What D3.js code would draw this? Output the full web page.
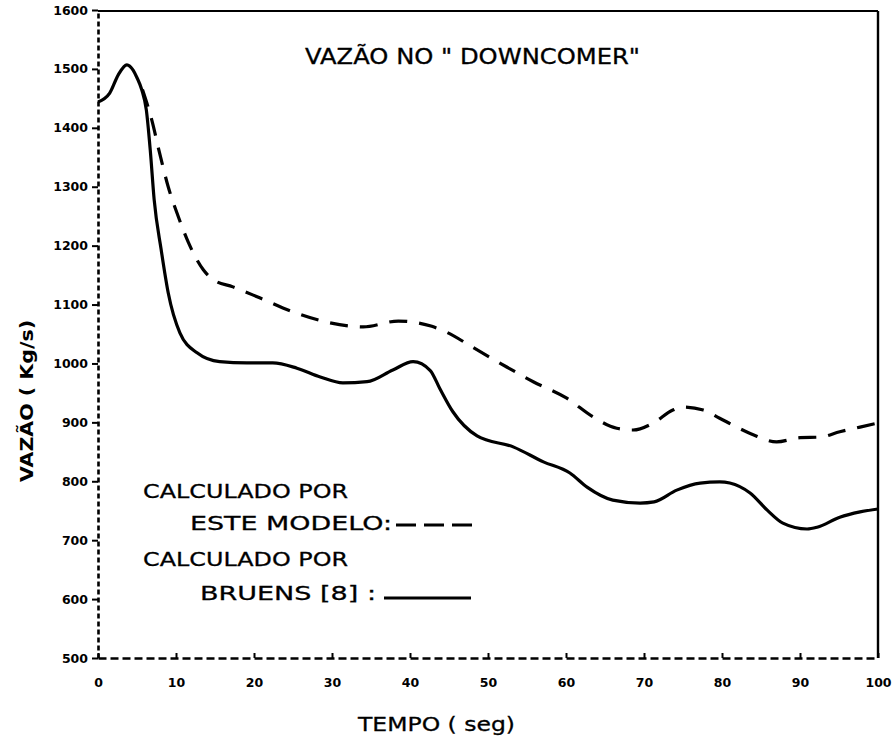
<!DOCTYPE html>
<html>
<head>
<meta charset="utf-8">
<script src="https://cdn.jsdelivr.net/npm/d3@7"></script>
<style>
  body { margin: 0; background: #fff; }
  svg { display: block; }
</style>
</head>
<body>
<div id="GraphHolder"></div>
<script>
// data
var tempoBruens = [0, 1.5, 2.6, 3.7, 4.5, 5.0, 5.6, 6.2, 6.7, 7.2, 8.1, 9.0, 10.5, 12.7, 15.6, 19.1, 22.4, 25.5, 28.5, 31.4, 34.5, 37.8, 40.4, 42.6, 43.8, 45.5, 48.6, 53.3, 57.1, 60.5, 62.7, 66.0, 69.5, 71.3, 74.2, 77.2, 79.7, 81.0, 83.6, 85.8, 87.8, 90.9, 92.2, 95.1, 97.7, 100];
var vazaoBruens = [1444, 1459, 1490, 1507, 1498, 1485, 1465, 1430, 1362, 1278, 1193, 1120, 1052, 1018, 1003, 1001, 1001, 992, 977, 967, 969, 989, 1003, 988, 958, 918, 877, 858, 833, 814, 790, 768, 763, 765, 785, 797, 799, 797, 780, 751, 729, 719, 722, 739, 748, 753];

var tempoModelo = [5.7, 6.9, 7.9, 9.0, 10.3, 11.6, 13.5, 14.8, 17.3, 20.8, 25.1, 29.4, 34.0, 38.5, 42.8, 44.7, 48.1, 52.4, 55.8, 60.1, 63.5, 66.5, 68.6, 71.2, 73.7, 74.9, 77.6, 79.7, 81.9, 84.0, 87.0, 90.0, 92.6, 95.1, 97.7, 100];
var vazaoModelo = [1465, 1413, 1357, 1300, 1249, 1205, 1159, 1142, 1130, 1111, 1087, 1070, 1062, 1072, 1063, 1053, 1027, 994, 969, 941, 909, 890, 887, 899, 921, 926, 921, 907, 892, 879, 867, 874, 875, 884, 892, 899];

var xTicks = [0, 10, 20, 30, 40, 50, 60, 70, 80, 90, 100];
var yTicks = [500, 600, 700, 800, 900, 1000, 1100, 1200, 1300, 1400, 1500, 1600];

var legendLines = ["CALCULADO POR", "ESTE MODELO:", "CALCULADO POR", "BRUENS [8] :"];

var W = 893, H = 743;

var svg = d3.select("#GraphHolder").append("svg")
    .attr("width", W)
    .attr("height", H)
    .style("background-color", "white");

// scales
var x = d3.scaleLinear().domain([0, 100]).range([98, 878]);
var y = d3.scaleLinear().domain([500, 1600]).range([658, 10]);

// left axis (dashed)
var yAxis = d3.axisLeft(y).tickValues(yTicks).tickFormat(d3.format("d"))
    .tickSize(6).tickSizeOuter(0).tickPadding(4);
var gy = svg.append("g")
    .attr("class", "yaxis")
    .attr("transform", "translate(" + x(0) + ",0)")
    .call(yAxis);
gy.select(".domain")
    .attr("stroke", "#000")
    .attr("stroke-width", 2.6)
    .attr("stroke-dasharray", "5,3");
gy.selectAll(".tick line").attr("stroke", "#000").attr("stroke-width", 2);
gy.selectAll(".tick text")
    .style("font-family", "DejaVu Sans")
    .style("font-weight", "bold")
    .style("font-size", "12.5px")
    .attr("fill", "#000");

// bottom axis (dashed)
var xAxis = d3.axisBottom(x).tickValues(xTicks).tickFormat(d3.format("d"))
    .tickSize(-5).tickSizeOuter(0).tickPadding(20);
var gx = svg.append("g")
    .attr("class", "xaxis")
    .attr("transform", "translate(0," + y(500) + ")")
    .call(xAxis);
gx.select(".domain")
    .attr("stroke", "#000")
    .attr("stroke-width", 2.6)
    .attr("stroke-dasharray", "8,4");
gx.selectAll(".tick line").attr("stroke", "#000").attr("stroke-width", 2);
gx.selectAll(".tick text")
    .style("font-family", "DejaVu Sans")
    .style("font-weight", "bold")
    .style("font-size", "12.5px")
    .attr("fill", "#000");

// top and right frame lines (solid)
svg.append("line")
    .attr("x1", x(0)).attr("x2", x(100))
    .attr("y1", y(1600) + 1).attr("y2", y(1600) + 1)
    .attr("stroke", "#000").attr("stroke-width", 2);
svg.append("line")
    .attr("x1", x(100)).attr("x2", x(100))
    .attr("y1", y(1600) + 1).attr("y2", y(500))
    .attr("stroke", "#000").attr("stroke-width", 2.4);

// curves
var line = d3.line()
    .x(function(d) { return x(d[0]); })
    .y(function(d) { return y(d[1]); })
    .curve(d3.curveMonotoneX);

var bruens = d3.zip(tempoBruens, vazaoBruens);
var modelo = d3.zip(tempoModelo, vazaoModelo);

svg.append("path")
    .datum(bruens)
    .attr("d", line)
    .attr("fill", "none")
    .attr("stroke", "#000")
    .attr("stroke-width", 3.2)
    .attr("stroke-linejoin", "round");

svg.append("path")
    .datum(modelo)
    .attr("d", line)
    .attr("fill", "none")
    .attr("stroke", "#000")
    .attr("stroke-width", 3.2)
    .attr("stroke-dasharray", "18,12");

// texts
var font = "DejaVu Sans";

svg.append("text")
    .attr("x", 305).attr("y", 64)
    .attr("textLength", 335).attr("lengthAdjust", "spacingAndGlyphs")
    .style("font-family", font).style("font-size", "21px")
    .attr("stroke", "#000").attr("stroke-width", 0.3)
    .text("VAZÃO  NO \" DOWNCOMER\"");

svg.append("text")
    .attr("transform", "translate(33,401) rotate(-90)")
    .attr("text-anchor", "middle")
    .attr("textLength", 162).attr("lengthAdjust", "spacingAndGlyphs")
    .style("font-family", font).style("font-size", "18px").style("font-weight", "bold")
    .text("VAZÃO ( Kg/s)");

svg.append("text")
    .attr("x", 358).attr("y", 731)
    .attr("textLength", 157).attr("lengthAdjust", "spacingAndGlyphs")
    .style("font-family", font).style("font-size", "20px")
    .attr("stroke", "#000").attr("stroke-width", 0.3)
    .text("TEMPO ( seg)");

// legend
var legendPos = [[143, 498, 205], [190, 530, 202], [143, 566, 205], [200, 600, 176]];
svg.selectAll(".legtext")
    .data(legendLines)
    .enter().append("text")
    .attr("class", "legtext")
    .attr("x", function(d, i) { return legendPos[i][0]; })
    .attr("y", function(d, i) { return legendPos[i][1]; })
    .attr("textLength", function(d, i) { return legendPos[i][2]; })
    .attr("lengthAdjust", "spacingAndGlyphs")
    .style("font-family", font).style("font-size", "20px")
    .attr("stroke", "#000").attr("stroke-width", 0.3)
    .text(function(d) { return d; });

svg.append("line")
    .attr("x1", 396).attr("x2", 478).attr("y1", 525).attr("y2", 525)
    .attr("stroke", "#000").attr("stroke-width", 3)
    .attr("stroke-dasharray", "20,8");
svg.append("line")
    .attr("x1", 384).attr("x2", 471).attr("y1", 598).attr("y2", 598)
    .attr("stroke", "#000").attr("stroke-width", 3);
</script>
</body>
</html>
